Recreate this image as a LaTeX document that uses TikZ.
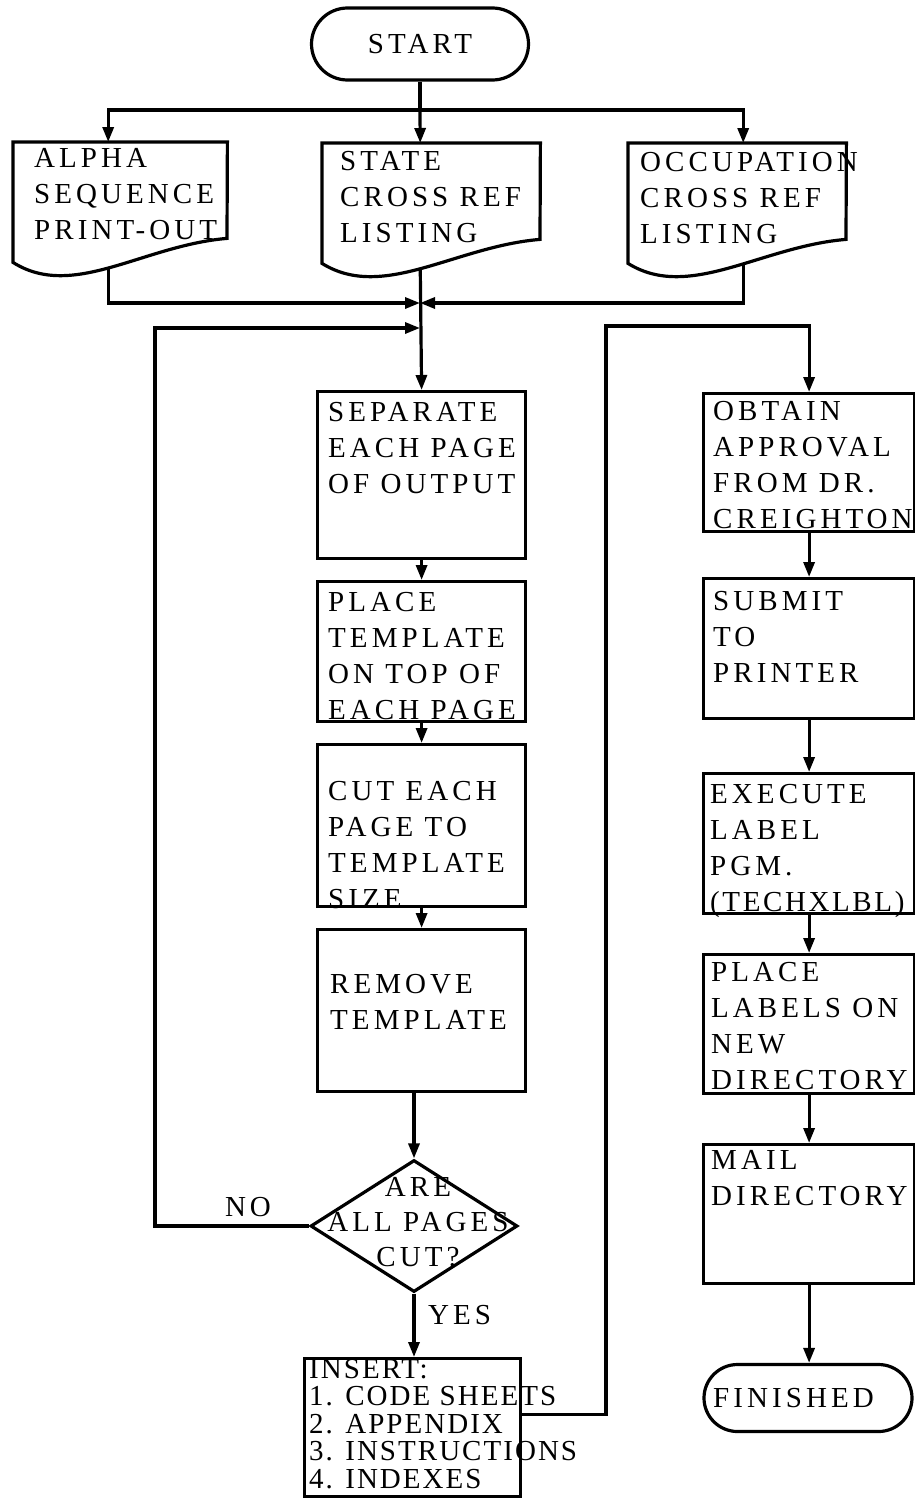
\documentclass[tikz,border=0pt]{standalone}
\usepackage{fontspec}
\newfontfamily\flow{Liberation Serif}[LetterSpace=14]
\newfontfamily\flownarrow{Liberation Serif}[LetterSpace=9]
\newfontfamily\flowtight{Liberation Serif}[LetterSpace=7]
\usetikzlibrary{arrows.meta,shapes.geometric,shapes.misc}
\begin{document}
\begin{tikzpicture}[x=1pt,y=-1pt,
  line/.style={line width=3.2pt},
  conn/.style={line width=3.2pt,-{Triangle[length=15pt,width=11pt]}},
  box/.style={draw,line width=3.2pt,anchor=north west,inner sep=0pt},
  docarea/.style={draw=none,anchor=north west,inner sep=0pt,minimum height=120pt},
  term/.style={draw,line width=3.2pt,rounded rectangle,inner sep=0pt},
  dec/.style={draw,line width=3.2pt,diamond,inner sep=0pt,minimum width=207pt,minimum height=132pt},
  txt/.style={anchor=north west,inner sep=0pt,align=left,font=\flow\fontsize{29}{36}\selectfont},
  ctxt/.style={inner sep=0pt,align=center,font=\flow\fontsize{29}{35}\selectfont},
  itxt/.style={anchor=north west,inner sep=0pt,align=left,font=\flowtight\fontsize{29}{27.5}\selectfont},
  lbl/.style={inner sep=0pt,font=\flow\fontsize{29}{30}\selectfont}]
\useasboundingbox (0,0) rectangle (915,1499);

% ---------- shapes ----------
\node[term,minimum width=217pt,minimum height=72pt] (start) at (420,44) {};
\node[docarea,minimum width=214pt] (alpha) at (13,142) {};
\node[docarea,minimum width=218pt] (state) at (322,143) {};
\node[docarea,minimum width=218pt] (occ) at (628,143) {};

\node[box,minimum width=208pt,minimum height=167pt] (sep) at (316,390) {};
\node[box,minimum width=208pt,minimum height=140pt] (plc) at (316,580) {};
\node[box,minimum width=208pt,minimum height=162pt] (cut) at (316,743) {};
\node[box,minimum width=208pt,minimum height=162pt] (rem) at (316,928) {};
\node[dec] (dia) at (414,1226) {};
\node[box,minimum width=216pt,minimum height=138pt] (ins) at (303,1357) {};

\node[box,minimum width=211pt,minimum height=138pt] (obt) at (702,392) {};
\node[box,minimum width=211pt,minimum height=140pt] (sub) at (702,577) {};
\node[box,minimum width=211pt,minimum height=140pt] (exe) at (702,772) {};
\node[box,minimum width=211pt,minimum height=139pt] (lab) at (702,953) {};
\node[box,minimum width=211pt,minimum height=139pt] (mail) at (702,1143) {};
\node[term,minimum width=208pt,minimum height=67pt] (fin) at (808,1398) {};

% ---------- connector points ----------
\coordinate (j1) at (420,110);
\coordinate (j2) at (420,303);
\coordinate (j3) at (420,328);
\coordinate (alphaIn) at ([xshift=-12pt]alpha.north);
\coordinate (stateIn) at ([xshift=-11pt]state.north);
\coordinate (occIn) at ([xshift=6pt]occ.north);
\coordinate (alphaOut) at ([xshift=-12pt]alpha.south);
\coordinate (stateOut) at ([xshift=-11pt]state.south);
\coordinate (occOut) at ([xshift=6pt]occ.south);
\coordinate (loopL) at (155,1226);
\coordinate (loopR) at (606,326);
\coordinate (insOut) at ([yshift=13pt]ins.east);

% ---------- connectors ----------
\draw[line] (start.south) -- (j1);
\draw[conn] (j1) -| (alphaIn);
\draw[conn] (j1) -- (stateIn);
\draw[conn] (j1) -| (occIn);
\draw[conn] (alphaOut) |- (j2);
\draw[conn] (occOut) |- (j2);
\draw[conn] (stateOut) -- (sep.north);
\draw[conn] (dia.west) -- (loopL) |- (j3);
\draw[conn] (sep.south) -- (plc.north);
\draw[conn] (plc.south) -- (cut.north);
\draw[conn] (cut.south) -- (rem.north);
\draw[conn] (rem.south -| dia.north) -- (dia.north);
\draw[conn] (dia.south) -- (dia.south |- ins.north);
\draw[conn] (insOut) -| (loopR) -| (obt.north);
\draw[conn] (obt.south) -- (sub.north);
\draw[conn] (sub.south) -- (exe.north);
\draw[conn] (exe.south) -- (lab.north);
\draw[conn] (lab.south) -- (mail.north);
\draw[conn] (mail.south) -- (mail.south |- fin.north);

% ---------- document outlines ----------
\draw[line,fill=white] (alpha.south west) .. controls +(60,38) and +(-84,7) .. ++(214,-24)
  -- (alpha.north east) -- (alpha.north west) -- cycle;
\draw[line,fill=white] (state.south west) .. controls +(61,38) and +(-85,7) .. ++(218,-24)
  -- (state.north east) -- (state.north west) -- cycle;
\draw[line,fill=white] (occ.south west) .. controls +(61,38) and +(-85,7) .. ++(218,-24)
  -- (occ.north east) -- (occ.north west) -- cycle;

% ---------- texts ----------
\node[ctxt] (startT) at (420,44) {START};
\node[txt] (alphaT) at (34,148) {ALPHA\\SEQUENCE\\PRINT-OUT};
\node[txt] (stateT) at (340,151) {STATE\\CROSS REF\\LISTING};
\node[txt] (occT) at (640,152) {OCCUPATION\\CROSS REF\\LISTING};
\node[txt] (sepT) at (328,402) {SEPARATE\\EACH PAGE\\OF OUTPUT};
\node[txt] (plcT) at (328,592) {PLACE\\TEMPLATE\\ON TOP OF\\EACH PAGE};
\node[txt] (cutT) at (328,781) {CUT EACH\\PAGE TO\\TEMPLATE\\SIZE};
\node[txt] (remT) at (330,974) {REMOVE\\TEMPLATE};
\node[ctxt] (diaT) at (418,1222) {ARE\\ALL PAGES\\CUT?};
\node[lbl] (noT) at (248,1207) {NO};
\node[lbl,anchor=west] (yesT) at (428,1315) {YES};
\node[itxt] (insT) at (309,1359) {INSERT:\\1. CODE SHEETS\\2. APPENDIX\\3. INSTRUCTIONS\\4. INDEXES};
\node[txt] (obtT) at (713,401) {OBTAIN\\APPROVAL\\FROM DR.\\CREIGHTON};
\node[txt] (subT) at (713,591) {SUBMIT\\TO\\PRINTER};
\node[txt] (exeT) at (710,784) {EXECUTE\\LABEL\\PGM.\\{\flownarrow(TECHXLBL)}};
\node[txt] (labT) at (711,962) {PLACE\\LABELS ON\\NEW\\DIRECTORY};
\node[txt] (mailT) at (711,1150) {MAIL\\DIRECTORY};
\node[lbl,anchor=west] (finT) at (713,1398) {FINISHED};
\end{tikzpicture}
\end{document}
